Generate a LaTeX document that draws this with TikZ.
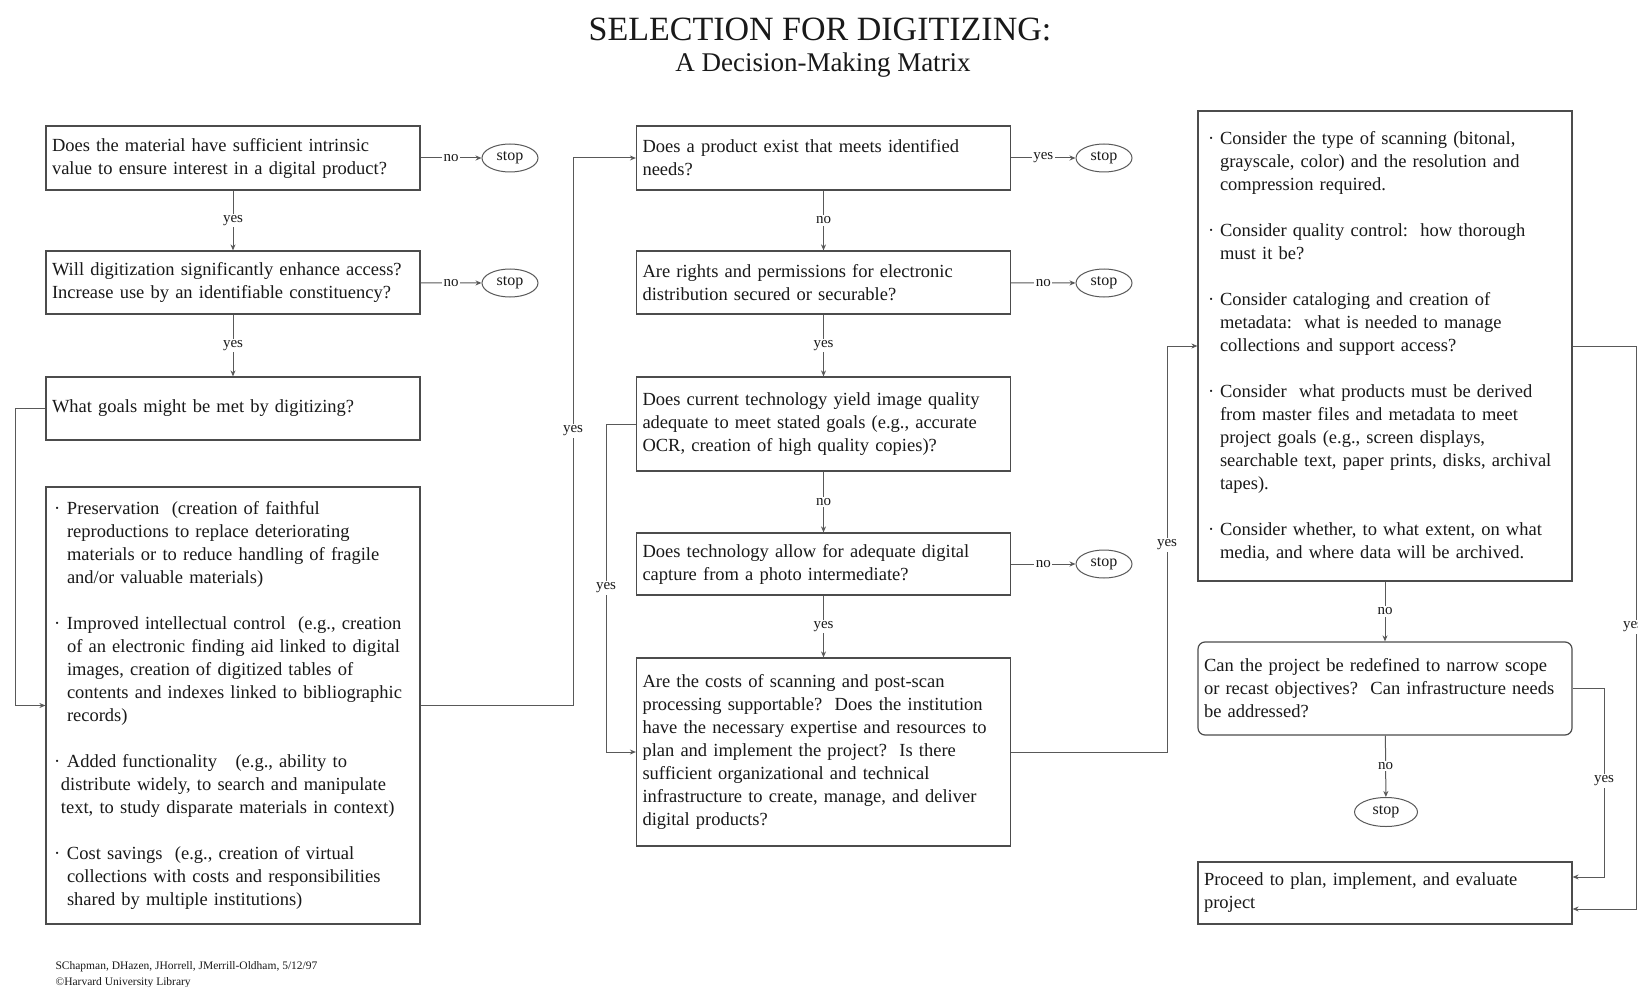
\documentclass[tikz,border=0pt]{standalone}
\usepackage{fontspec}
\setmainfont{Liberation Serif}
\usetikzlibrary{arrows.meta,shapes.geometric}
\newcommand{\bodyfnt}{\fontsize{18.5}{23}\selectfont}
\newcommand{\bul}{\makebox[15pt][l]{\hspace{2pt}·}}
\newcommand{\ind}{\hspace*{15pt}}
\newcommand{\bulj}{\makebox[16pt][l]{\hspace{4pt}·}}
\newcommand{\indj}{\hspace*{16pt}}
\begin{document}
\begin{tikzpicture}[x=1pt,y=-1pt,
  box/.style={draw=black!70, line width=1.2pt, text width=362pt, inner sep=6pt,
    align=left, font=\bodyfnt, text=black!90},
  stopn/.style={ellipse, draw=black!65, line width=1pt, minimum width=56pt,
    minimum height=28pt, inner sep=0pt, font=\fontsize{16}{18}\selectfont, text=black!90},
  lbl/.style={fill=white, inner sep=1.5pt, font=\fontsize{15}{17}\selectfont, text=black!90},
  arr/.style={draw=black!65, line width=1pt, -{Stealth[length=6pt,width=5pt]}}
]
\path[use as bounding box, fill=white] (0,0) rectangle (1638,987);

% title
\node[font=\fontsize{34}{40}\selectfont, text=black!90] (title) at (820,29) {SELECTION FOR DIGITIZING:};
\node[font=\fontsize{27}{32}\selectfont, text=black!90] (subtitle) at (823,65) {A Decision-Making Matrix};

% column 1
\node[box, minimum height=64pt] (A) at (233,158) {Does the material have sufficient intrinsic\\value to ensure interest in a digital product?};
\node[box, minimum height=63pt] (B) at (233,282.5) {Will digitization significantly enhance access?\\Increase use by an identifiable constituency?};
\node[box, minimum height=63pt] (C) at (233,408.5) {What goals might be met by digitizing?};
\node[box, minimum height=437pt] (D) at (233,705.5) {%
\bul Preservation\ \ (creation of faithful\\
\ind reproductions to replace deteriorating\\
\ind materials or to reduce handling of fragile\\
\ind and/or valuable materials)\\[23pt]
\bul Improved intellectual control\ \ (e.g., creation\\
\ind of an electronic finding aid linked to digital\\
\ind images, creation of digitized tables of\\
\ind contents and indexes linked to bibliographic\\
\ind records)\\[23pt]
\bul Added functionality\ \ \ (e.g., ability to\\
\hspace*{9pt}distribute widely, to search and manipulate\\
\hspace*{9pt}text, to study disparate materials in context)\\[23pt]
\bul Cost savings\ \ (e.g., creation of virtual\\
\ind collections with costs and responsibilities\\
\ind shared by multiple institutions)};

\node[stopn] (s1) at (510,158) {stop};
\node[stopn] (s2) at (510,283) {stop};

% column 2
\node[box, minimum height=64pt] (E) at (823.5,158) {Does a product exist that meets identified\\needs?};
\node[box, minimum height=63pt] (F) at (823.5,282.5) {Are rights and permissions for electronic\\distribution secured or securable?};
\node[box, minimum height=94pt] (G) at (823.5,424) {Does current technology yield image quality\\adequate to meet stated goals (e.g., accurate\\OCR, creation of high quality copies)?};
\node[box, minimum height=62pt] (H) at (823.5,564) {Does technology allow for adequate digital\\capture from a photo intermediate?};
\node[box, minimum height=188pt] (I) at (823.5,752) {Are the costs of scanning and post-scan\\processing supportable?\ \ Does the institution\\have the necessary expertise and resources to\\plan and implement the project?\ \ Is there\\sufficient organizational and technical\\infrastructure to create, manage, and deliver\\digital products?};

\node[stopn] (s3) at (1104,158) {stop};
\node[stopn] (s4) at (1104,283) {stop};
\node[stopn] (s5) at (1104,564) {stop};

% column 3
\node[box, minimum height=470pt] (J) at (1385,346) {%
\bulj Consider the type of scanning (bitonal,\\
\indj grayscale, color) and the resolution and\\
\indj compression required.\\[23pt]
\bulj Consider quality control:\ \ how thorough\\
\indj must it be?\\[23pt]
\bulj Consider cataloging and creation of\\
\indj metadata:\ \ what is needed to manage\\
\indj collections and support access?\\[23pt]
\bulj Consider\ \ what products must be derived\\
\indj from master files and metadata to meet\\
\indj project goals (e.g., screen displays,\\
\indj searchable text, paper prints, disks, archival\\
\indj tapes).\\[23pt]
\bulj Consider whether, to what extent, on what\\
\indj media, and where data will be archived.};
\node[box, minimum height=93pt, rounded corners=7pt] (K) at (1385,688.5) {Can the project be redefined to narrow scope\\or recast objectives?\ \ Can infrastructure needs\\be addressed?};
\node[stopn, minimum width=63pt, minimum height=29pt] (s6) at (1386,812) {stop};
\node[box, minimum height=62pt] (L) at (1385,893) {Proceed to plan, implement, and evaluate\\project};

% footer
\node[anchor=west, align=left, font=\fontsize{11.5}{16}\selectfont, text=black!90] (foot) at (52,975)
  {SChapman, DHazen, JHorrell, JMerrill-Oldham, 5/12/97\\©Harvard University Library};

% bend coordinates
\coordinate (lx) at (15,0);
\coordinate (bx1) at (573,0);
\coordinate (bx2) at (606,0);
\coordinate (bx3) at (1167,0);
\coordinate (bx4) at (1604,0);
\coordinate (bx5) at (1636,0);
\coordinate (Lin1) at ([yshift=16pt]L.east);
\coordinate (Lin2) at ([yshift=-16pt]L.east);

% connectors column 1
\draw[arr] (A) -- node[lbl] (la1) {yes} (B);
\draw[arr] (B) -- node[lbl] (la2) {yes} (C);
\draw[arr] (A) -- node[lbl] (ln1) {no} (s1);
\draw[arr] (B) -- node[lbl] (ln2) {no} (s2);
\draw[arr] (C.west) -- (C.west -| lx) |- (D.west);
\draw[arr] (D.east) -- (D.east -| bx1) |- (E.west);
\node[lbl] (ly1) at (573,431) {yes};

% connectors column 2
\draw[arr] (E) -- node[lbl] (lb1) {no} (F);
\draw[arr] (F) -- node[lbl] (lb2) {yes} (G);
\draw[arr] (G) -- node[lbl] (lb3) {no} (H);
\draw[arr] (H) -- node[lbl] (lb4) {yes} (I);
\draw[arr] (E) -- node[lbl] (ln3) {yes} (s3);
\draw[arr] (F) -- node[lbl] (ln4) {no} (s4);
\draw[arr] (H) -- node[lbl] (ln5) {no} (s5);
\draw[arr] (G.west) -- (G.west -| bx2) |- (I.west);
\node[lbl] (ly2) at (606,588) {yes};
\draw[arr] (I.east) -- (I.east -| bx3) |- (J.west);
\node[lbl] (ly3) at (1167,545) {yes};

% connectors column 3
\draw[arr] (J) -- node[lbl] (lc1) {no} (K);
\draw[arr] (K) -- node[lbl] (lc2) {no} (s6);
\draw[arr] (K.east) -- (K.east -| bx4) |- (Lin1);
\node[lbl] (ly4) at (1604,781) {yes};
\draw[arr] (J.east) -- (J.east -| bx5) |- (Lin2);
\node[lbl] (ly5) at (1633,627) {yes};
\end{tikzpicture}
\end{document}
